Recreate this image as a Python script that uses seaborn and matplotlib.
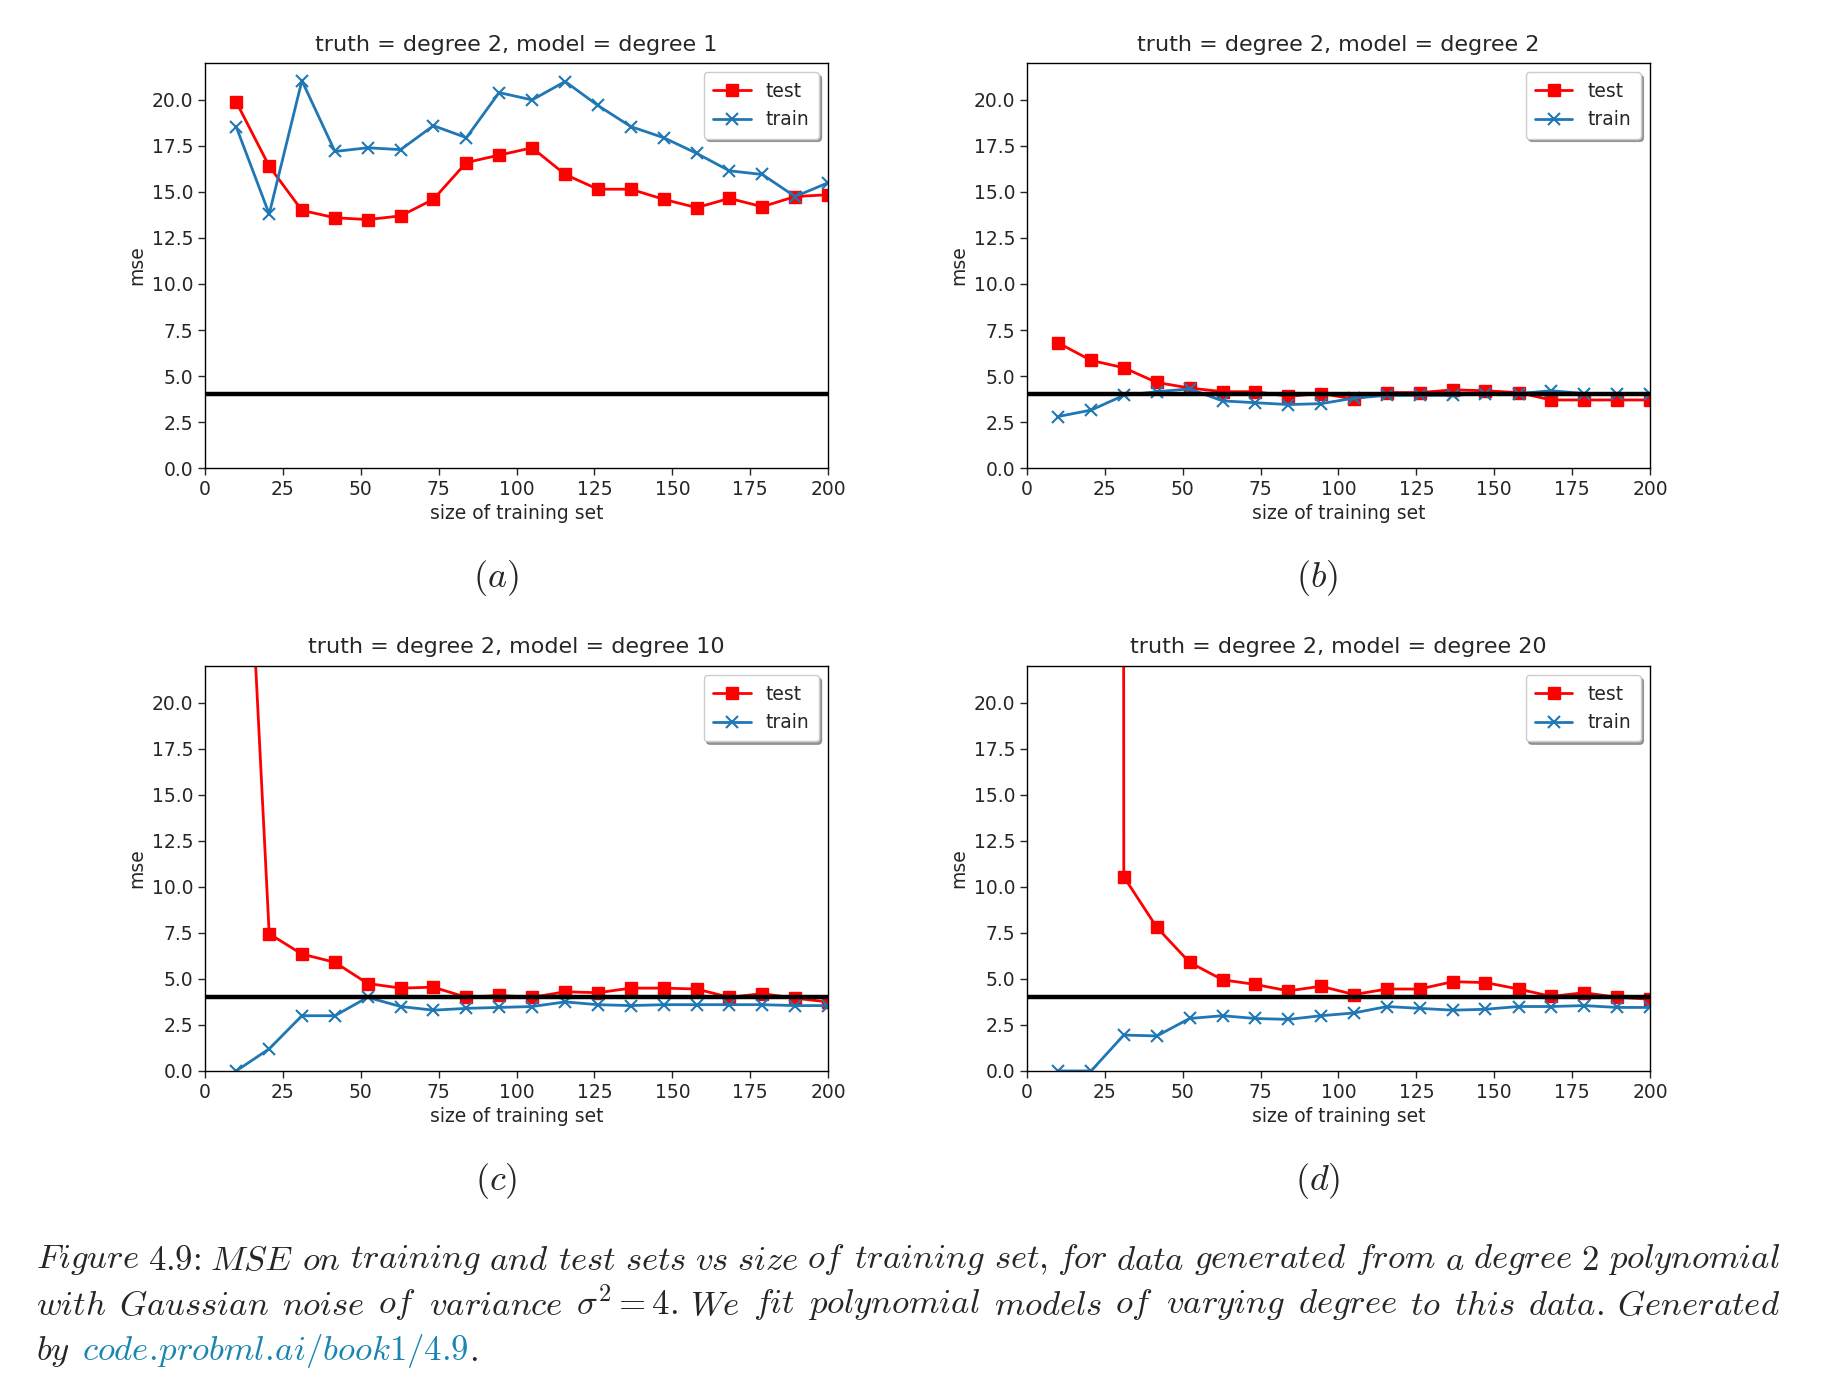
import re
import numpy as np
import matplotlib
matplotlib.use("Agg")
import matplotlib.pyplot as plt
import pandas as pd
import seaborn as sns

# =========================
# DATA
# =========================
n_train = [10, 20.6, 31.1, 41.7, 52.2, 62.8, 73.3, 83.9, 94.4, 105,
           115.6, 126.1, 136.7, 147.2, 157.8, 168.3, 178.9, 189.4, 200]

model_degrees = [1, 2, 10, 20]
panel_letters = ['a', 'b', 'c', 'd']
noise_var = 4.0

test_deg1 = [19.9, 16.4, 14.0, 13.6, 13.5, 13.7, 14.6, 16.6, 17.0, 17.4,
             15.95, 15.15, 15.15, 14.6, 14.15, 14.65, 14.2, 14.75, 14.85]
train_deg1 = [18.55, 13.8, 21.05, 17.2, 17.4, 17.3, 18.6, 17.95, 20.4, 20.0,
              21.0, 19.7, 18.55, 17.95, 17.1, 16.15, 15.95, 14.75, 15.5]

test_deg2 = [6.8, 5.85, 5.45, 4.65, 4.35, 4.15, 4.15, 3.9, 4.05, 3.75,
             4.1, 4.1, 4.25, 4.2, 4.1, 3.7, 3.7, 3.7, 3.7]
train_deg2 = [2.8, 3.15, 3.95, 4.15, 4.3, 3.65, 3.55, 3.45, 3.5, 3.8,
              3.95, 3.95, 3.95, 4.05, 4.05, 4.2, 4.05, 4.05, 4.05]

test_deg10 = [43.0, 7.45, 6.35, 5.9, 4.75, 4.5, 4.55, 4.0, 4.1, 4.0,
              4.3, 4.25, 4.5, 4.5, 4.45, 4.0, 4.2, 3.95, 3.75]
train_deg10 = [0.0, 1.2, 3.0, 3.0, 4.0, 3.5, 3.3, 3.4, 3.45, 3.5,
               3.75, 3.6, 3.55, 3.6, 3.6, 3.6, 3.6, 3.55, 3.55]

test_deg20 = [1500.0, 2500.0, 10.55, 7.8, 5.9, 4.95, 4.7, 4.35, 4.6, 4.15,
              4.45, 4.45, 4.85, 4.8, 4.45, 4.05, 4.25, 4.0, 3.9]
train_deg20 = [0.0, 0.0, 1.95, 1.9, 2.85, 3.0, 2.85, 2.8, 3.0, 3.15,
               3.5, 3.4, 3.3, 3.35, 3.5, 3.5, 3.55, 3.45, 3.45]

test_curves = [test_deg1, test_deg2, test_deg10, test_deg20]
train_curves = [train_deg1, train_deg2, train_deg10, train_deg20]

caption_line1 = ("Figure 4.9: MSE on training and test sets vs size of training set, "
                 "for data generated from a degree 2 polynomial").split(' ')
caption_line2 = ["with", "Gaussian", "noise", "of", "variance", "$\\sigma^2 = 4$.", "We", "fit",
                 "polynomial", "models", "of", "varying", "degree", "to", "this", "data.",
                 "Generated"]
caption_prefix = "by"
caption_link = "code.probml.ai/book1/4.9"
link_color = '#1a85b0'

# =========================
# PLOTTING
# =========================
sns.set_theme(style='ticks')
plt.rcParams['font.family'] = ['DejaVu Sans']
plt.rcParams['mathtext.fontset'] = 'cm'
plt.rcParams['font.size'] = 13.5
plt.rcParams['axes.linewidth'] = 1.0
plt.rcParams['xtick.major.width'] = 1.0
plt.rcParams['ytick.major.width'] = 1.0
plt.rcParams['xtick.major.size'] = 5
plt.rcParams['ytick.major.size'] = 5

fig = plt.figure(figsize=(18.24, 13.84), dpi=100)

ax_w, ax_h = 0.3416, 0.2926
lefts = [0.1124, 0.563, 0.1124, 0.563]
bottoms = [0.6618, 0.6618, 0.2262, 0.2262]


def mathit(s):
    # plain words -> computer-modern italic mathtext, without math spacing on punctuation
    s = s.replace(':', '\\colon').replace(',', '{,}')
    s = re.sub(r'\.(?=[A-Za-z])', '.\\!', s)
    return '\\mathit{' + s.replace(' ', '\\ ') + '}'


def to_mt(word):
    parts = word.split('$')
    out = ''
    for k, p in enumerate(parts):
        if not p:
            continue
        out += p if k % 2 else mathit(p)
    return '$' + out + '$'


for i, deg in enumerate(model_degrees):
    ax = fig.add_axes([lefts[i], bottoms[i], ax_w, ax_h])
    df = pd.DataFrame({'n': n_train, 'test': test_curves[i], 'train': train_curves[i]})

    sns.lineplot(data=df, x='n', y='test', ax=ax, color='red', marker='s',
                 markersize=9, markeredgecolor='red', markeredgewidth=1,
                 linewidth=2, label='test')
    sns.lineplot(data=df, x='n', y='train', ax=ax, color='#1f77b4', marker='x',
                 markersize=9, markeredgecolor='#1f77b4', markeredgewidth=1.5,
                 linewidth=2, label='train')
    ax.axhline(noise_var, color='black', linewidth=3.2)

    ax.set_xlim(0, 200)
    ax.set_ylim(0, 22)
    ax.set_yticks(np.arange(0, 22, 2.5))
    ax.set_xticks(np.arange(0, 201, 25))
    ax.tick_params(labelsize=13.5)
    ax.set_xlabel('size of training set', fontsize=13.5)
    ax.set_ylabel('mse', fontsize=13.5)
    ax.set_title(f'truth = degree 2, model = degree {deg}', fontsize=16, pad=9)
    ax.legend(loc='upper right', shadow=True, fancybox=True, fontsize=13.5,
              framealpha=1, edgecolor='#cccccc', borderpad=0.5)
    for s in ax.spines.values():
        s.set_visible(True)
        s.set_color('black')

    fig.text(lefts[i] + ax_w / 2 - 0.0115, bottoms[i] - 0.0795, f'$({panel_letters[i]})$',
             ha='center', va='center', fontsize=26)

# caption, justified between these figure-pixel edges
cap_left, cap_right = 36, 1780
cap_y = [0.0896, 0.0571, 0.0238]
cap_fs = 25
renderer = fig.canvas.get_renderer()


def place_justified(words, y):
    texts = [fig.text(0, y, to_mt(w), ha='left', va='center', fontsize=cap_fs) for w in words]
    widths = [t.get_window_extent(renderer).width for t in texts]
    gap = (cap_right - cap_left - sum(widths)) / (len(words) - 1)
    x = cap_left
    for t, w in zip(texts, widths):
        t.set_x(x / fig.bbox.width)
        x += w + gap


place_justified(caption_line1, cap_y[0])
place_justified(caption_line2, cap_y[1])

space_px = 0.36 * cap_fs * fig.dpi / 72
t1 = fig.text(cap_left / fig.bbox.width, cap_y[2], to_mt(caption_prefix),
              ha='left', va='center', fontsize=cap_fs)
x = cap_left + t1.get_window_extent(renderer).width + space_px
t2 = fig.text(x / fig.bbox.width, cap_y[2], to_mt(caption_link), color=link_color,
              ha='left', va='center', fontsize=cap_fs)
x += t2.get_window_extent(renderer).width
fig.text(x / fig.bbox.width, cap_y[2], '$.$', ha='left', va='center', fontsize=cap_fs)

fig.savefig('out.png', dpi=100)
